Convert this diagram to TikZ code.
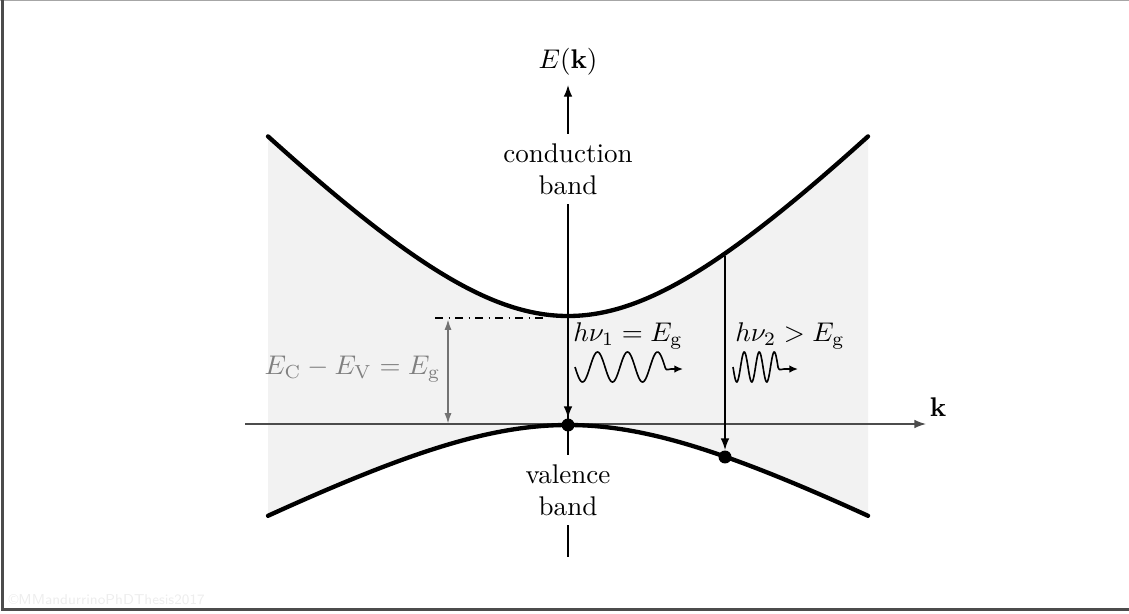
\documentclass[tikz,border=0pt]{standalone}
\usetikzlibrary{arrows.meta}
\begin{document}
\begin{tikzpicture}[x=0.37pt,y=-0.37pt,
  axisarrow/.style={line width=0.5pt,-{Latex[length=4.3pt,width=3.2pt]}},
  bandline/.style={line width=1.6pt,line cap=round},
  transarrow/.style={line width=0.5pt,-{Latex[length=4.3pt,width=3.2pt]}},
  wavearrow/.style={line width=0.6pt,-{Latex[length=3.2pt,width=2.8pt]}},
  dotst/.style={circle,fill=black,inner sep=0pt,minimum size=4.8pt},
  bandlabel/.style={align=center},
]
\useasboundingbox (0,0) rectangle (1129,613);
% frame
\draw[black!35,line width=0.6pt] (0,0.5) -- (1129,0.5);
\draw[black!70,line width=0.8pt] (2.5,0) -- (2.5,609.5) -- (1129,609.5);
% watermark
\node[anchor=west,text=black!7,font=\sffamily\fontsize{5.3}{6}\selectfont,inner sep=0pt] (wm) at (8,600) {\textcopyright MMandurrinoPhDThesis2017};
% gap region
\fill[gray!10] plot[domain=-300:300,samples=80] ({568+\x},{316-184*(sqrt(1+(\x/176)^2)-1)})
  -- plot[domain=300:-300,samples=80] ({568+\x},{425+93*(sqrt(1+(\x/176)^2)-1)}) -- cycle;
% k axis
\coordinate (kstart) at (245,424);
\coordinate (kend) at (926,424);
\draw[axisarrow,black!70] (kstart) -- (kend);
\node (klabel) at (938,407) {$\mathbf{k}$};
% bands
\draw[bandline] plot[domain=-300:300,samples=100,smooth] ({568+\x},{316-184*(sqrt(1+(\x/176)^2)-1)});
\draw[bandline] plot[domain=-300:300,samples=100,smooth] ({568+\x},{425+93*(sqrt(1+(\x/176)^2)-1)});
% E axis
\node (Elabel) at (568,62) {$E(\mathbf{k})$};
\node[bandlabel] (cb) at (568,169) {conduction\\band};
\node[bandlabel] (vb) at (568,490) {valence\\band};
\coordinate (vbot) at (568,557);
\draw[axisarrow] (cb) -- (Elabel);
\draw[line width=0.5pt] (cb) -- (vb);
\draw[line width=0.5pt] (vb) -- (vbot);
% dots
\node[dotst] (dot1) at (568,425) {};
\node[dotst] (dot2) at (725,457) {};
% transitions
\coordinate (cmin) at (568,318);
\coordinate (c2) at (725,256);
\draw[transarrow] (cmin) -- (dot1);
\draw[transarrow] (c2) -- (dot2);
% gap marker
\coordinate (dd1) at (435,318);
\coordinate (dd2) at (547,318);
\draw[dashdotted,line width=0.4pt] (dd1) -- (dd2);
\coordinate (ga1) at (448,319);
\coordinate (ga2) at (448,424);
\draw[black!55,line width=0.7pt,{Latex[length=4pt,width=2.6pt]}-{Latex[length=4pt,width=2.6pt]}] (ga1) -- (ga2);
\node[text=black!50,anchor=east,inner sep=0pt] (eglabel) at (441,369) {$E_{\mathrm{C}} - E_{\mathrm{V}} = E_{\mathrm{g}}$};
% photons
\node (hv1) at (628,336) {$h\nu_1 = E_{\mathrm{g}}$};
\node (hv2) at (790,336) {$h\nu_2 > E_{\mathrm{g}}$};
\draw[wavearrow] plot[domain=0:90,samples=90,smooth] ({575+\x},{367+15*sin(12*\x)})
  .. controls (666,370) .. (671,369) -- (683,369);
\draw[wavearrow] plot[domain=0:45,samples=70,smooth] ({733+\x},{367+15*sin(24*\x)})
  .. controls (779,370) .. (784,369) -- (798,369);
\end{tikzpicture}
\end{document}
